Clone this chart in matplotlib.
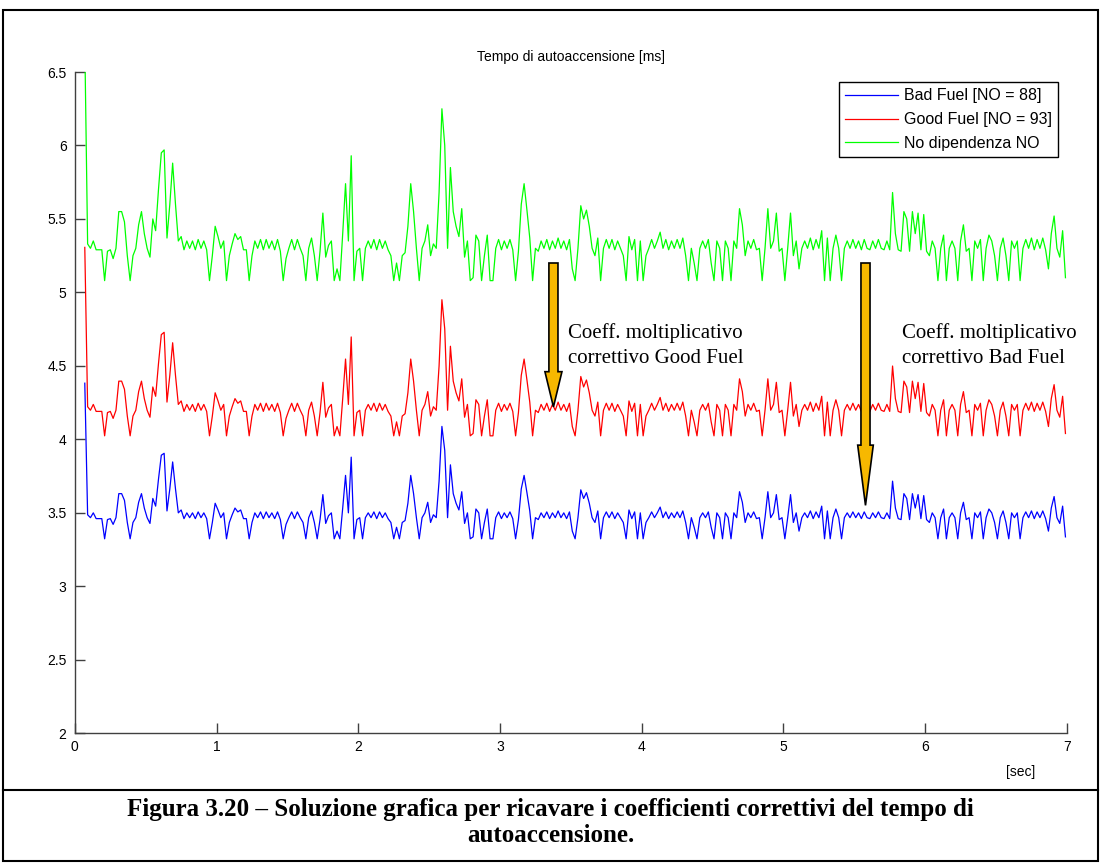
"""Tempo di autoaccensione: soluzione grafica per i coefficienti correttivi (Figura 3.20)."""

import numpy as np
import matplotlib
matplotlib.use("Agg")
import matplotlib.pyplot as plt
from matplotlib.patches import Rectangle, FancyArrow
from matplotlib.lines import Line2D

# time base of the sampled ignition-delay trace [sec]
T_START = 0.07
T_STEP = 0.02

# ignition delay with no NO dependence [ms]
no_dip = [
    6.70, 5.33, 5.30, 5.35, 5.29, 5.29, 5.29, 5.08, 5.28, 5.29, 5.23, 5.30, 5.55, 5.55, 5.48, 5.25, 5.08,
    5.25, 5.30, 5.46, 5.55, 5.40, 5.30, 5.24, 5.50, 5.42, 5.70, 5.95, 5.97, 5.37, 5.60, 5.88, 5.60, 5.35,
    5.38, 5.29, 5.35, 5.30, 5.35, 5.29, 5.36, 5.30, 5.35, 5.29, 5.08, 5.25, 5.45, 5.38, 5.30, 5.35, 5.08,
    5.25, 5.33, 5.40, 5.36, 5.38, 5.29, 5.29, 5.08, 5.25, 5.35, 5.30, 5.36, 5.29, 5.36, 5.30, 5.35, 5.29,
    5.36, 5.28, 5.08, 5.23, 5.30, 5.36, 5.29, 5.36, 5.30, 5.25, 5.08, 5.30, 5.37, 5.25, 5.08, 5.28, 5.54,
    5.24, 5.32, 5.35, 5.08, 5.16, 5.08, 5.40, 5.74, 5.35, 5.93, 5.08, 5.28, 5.30, 5.08, 5.30, 5.35, 5.30,
    5.36, 5.29, 5.36, 5.30, 5.35, 5.29, 5.25, 5.08, 5.20, 5.08, 5.25, 5.27, 5.45, 5.74, 5.55, 5.30, 5.08,
    5.30, 5.35, 5.46, 5.25, 5.33, 5.30, 5.68, 6.25, 6.00, 5.30, 5.85, 5.55, 5.45, 5.38, 5.57, 5.24, 5.35,
    5.08, 5.10, 5.39, 5.35, 5.08, 5.25, 5.39, 5.08, 5.08, 5.30, 5.36, 5.29, 5.35, 5.30, 5.36, 5.29, 5.08,
    5.28, 5.60, 5.74, 5.56, 5.37, 5.08, 5.30, 5.28, 5.35, 5.30, 5.36, 5.29, 5.35, 5.30, 5.37, 5.30, 5.35,
    5.29, 5.36, 5.16, 5.08, 5.30, 5.59, 5.50, 5.56, 5.45, 5.30, 5.25, 5.37, 5.08, 5.30, 5.36, 5.30, 5.36,
    5.29, 5.35, 5.30, 5.25, 5.08, 5.38, 5.29, 5.36, 5.08, 5.35, 5.08, 5.25, 5.30, 5.36, 5.30, 5.35, 5.41,
    5.30, 5.36, 5.29, 5.35, 5.30, 5.36, 5.30, 5.37, 5.25, 5.08, 5.30, 5.20, 5.08, 5.30, 5.35, 5.30, 5.36,
    5.20, 5.08, 5.35, 5.30, 5.08, 5.35, 5.30, 5.08, 5.35, 5.30, 5.57, 5.46, 5.25, 5.35, 5.30, 5.36, 5.29,
    5.30, 5.08, 5.30, 5.57, 5.30, 5.35, 5.54, 5.28, 5.30, 5.08, 5.30, 5.54, 5.25, 5.35, 5.16, 5.30, 5.35,
    5.30, 5.37, 5.29, 5.36, 5.30, 5.42, 5.08, 5.37, 5.08, 5.30, 5.39, 5.30, 5.08, 5.30, 5.35, 5.30, 5.36,
    5.30, 5.35, 5.29, 5.36, 5.30, 5.29, 5.35, 5.30, 5.36, 5.30, 5.29, 5.35, 5.29, 5.68, 5.40, 5.29, 5.28,
    5.55, 5.50, 5.28, 5.55, 5.40, 5.54, 5.29, 5.53, 5.28, 5.25, 5.35, 5.30, 5.08, 5.30, 5.39, 5.08, 5.30,
    5.35, 5.30, 5.08, 5.35, 5.46, 5.28, 5.30, 5.08, 5.35, 5.30, 5.36, 5.08, 5.30, 5.39, 5.35, 5.25, 5.08,
    5.30, 5.37, 5.25, 5.08, 5.35, 5.30, 5.35, 5.08, 5.30, 5.36, 5.30, 5.37, 5.29, 5.36, 5.30, 5.37, 5.29,
    5.16, 5.40, 5.52, 5.30, 5.24, 5.42, 5.10,
]

# multiplicative correction coefficients (Good Fuel NO = 93, Bad Fuel NO = 88)
K_GOOD = 0.792
K_BAD = 0.654

SERIES_LABELS = ["Bad Fuel [NO = 88]", "Good Fuel [NO = 93]", "No dipendenza NO"]
SERIES_COLORS = ["#0000ff", "#ff0000", "#00ff00"]

X_TICKS = [0, 1, 2, 3, 4, 5, 6, 7]
Y_TICKS = [2, 2.5, 3, 3.5, 4, 4.5, 5, 5.5, 6, 6.5]

green = np.array(no_dip)
t = T_START + T_STEP * np.arange(green.size)
red = green * K_GOOD
blue = green * K_BAD

fig = plt.figure(figsize=(11.01, 8.64), dpi=100)
ax = fig.add_axes([0.068, 0.1516, 0.901, 0.765])

for y, c, lab in zip([blue, red, green], SERIES_COLORS, SERIES_LABELS):
    ax.plot(t, y, color=c, lw=0.9, label=lab)

ax.set_xlim(0, 7); ax.set_ylim(2, 6.5)
ax.set_xticks(X_TICKS); ax.set_yticks(Y_TICKS)
ax.set_xticklabels([f"{v:g}" for v in X_TICKS])
ax.set_yticklabels([f"{v:g}" for v in Y_TICKS])
for s in ("top", "right"):
    ax.spines[s].set_visible(False)
for s in ("left", "bottom"):
    ax.spines[s].set_color("#404040"); ax.spines[s].set_linewidth(1.0)
ax.tick_params(direction="in", length=7, width=1.0, color="#404040",
               labelsize=10, labelfontfamily="Liberation Sans")
ax.tick_params(axis="y", pad=6)
ax.tick_params(axis="x", pad=5)
ax.set_title("Tempo di autoaccensione [ms]", fontsize=10, family="Liberation Sans", pad=8)
ax.text(0.953, -0.059, "[sec]", transform=ax.transAxes, ha="center", va="center",
        fontsize=10, family="Liberation Sans")

leg = ax.legend(loc="upper right", bbox_to_anchor=(0.991, 0.985), borderaxespad=0,
                fancybox=False, edgecolor="black", framealpha=1, handlelength=3.3,
                handletextpad=0.35, prop={"family": "Liberation Sans", "size": 11.5},
                labelspacing=0.55, borderpad=0.4)
leg.get_frame().set_linewidth(1.0)

# yellow arrows marking the correction from the reference trace
gold = "#f7b800"
ax.add_patch(FancyArrow(3.377, 5.2, 0, -0.98, width=0.064, head_width=0.12, head_length=0.24,
                        length_includes_head=True, facecolor=gold, edgecolor="black", lw=1.2,
                        zorder=5))
ax.add_patch(FancyArrow(5.579, 5.2, 0, -1.65, width=0.064, head_width=0.11, head_length=0.41,
                        length_includes_head=True, facecolor=gold, edgecolor="black", lw=1.2,
                        zorder=5))
ax.text(3.48, 4.64, "Coeff. moltiplicativo\ncorrettivo Good Fuel", fontsize=15,
        family="Liberation Serif", va="center", ha="left", linespacing=1.4)
ax.text(5.84, 4.64, "Coeff. moltiplicativo\ncorrettivo Bad Fuel", fontsize=15,
        family="Liberation Serif", va="center", ha="left", linespacing=1.4)

# caption box
fig.add_artist(Rectangle((0.003, 0.003), 0.994, 0.985, transform=fig.transFigure,
                         fill=False, edgecolor="black", lw=1.5))
fig.add_artist(Line2D([0.003, 0.997], [0.0856, 0.0856], transform=fig.transFigure,
                      color="black", lw=1.5))
fig.text(0.5, 0.063, "Figura 3.20 – Soluzione grafica per ricavare i coefficienti correttivi del tempo di",
         ha="center", va="center", fontsize=18, weight="bold", family="Liberation Serif")
fig.text(0.5, 0.033, "autoaccensione.", ha="center", va="center", fontsize=18,
         weight="bold", family="Liberation Serif")

fig.savefig("out.png", dpi=100)
